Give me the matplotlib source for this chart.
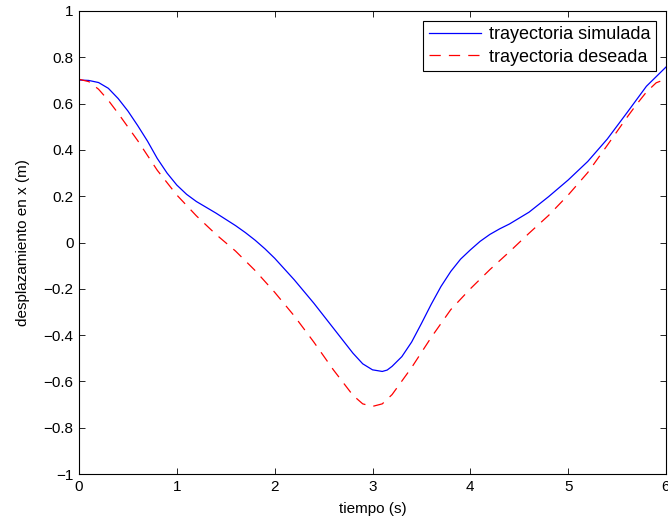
import matplotlib
matplotlib.use('Agg')
import matplotlib.pyplot as plt
from matplotlib.ticker import FuncFormatter

plt.rcParams['font.family'] = ['Liberation Sans', 'DejaVu Sans']

# trayectoria simulada
t_sim = [0.0, 0.1, 0.2, 0.3, 0.4, 0.5, 0.6, 0.7, 0.8, 0.9, 1.0, 1.1, 1.2, 1.3, 1.4,
         1.5, 1.6, 1.7, 1.8, 1.9, 2.0, 2.2, 2.4, 2.6, 2.8, 2.9, 3.0, 3.1, 3.15, 3.2,
         3.3, 3.4, 3.5, 3.6, 3.7, 3.8, 3.9, 4.0, 4.1, 4.2, 4.3, 4.4, 4.6, 4.8, 5.0,
         5.2, 5.4, 5.6, 5.8, 6.0]
x_sim = [0.702, 0.700, 0.691, 0.666, 0.622, 0.568, 0.505, 0.438, 0.363, 0.300,
         0.248, 0.208, 0.177, 0.152, 0.127, 0.100, 0.073, 0.043, 0.010, -0.027,
         -0.068, -0.161, -0.262, -0.370, -0.478, -0.524, -0.550, -0.557, -0.551,
         -0.535, -0.493, -0.430, -0.350, -0.267, -0.190, -0.125, -0.072, -0.032,
         0.005, 0.035, 0.059, 0.080, 0.131, 0.198, 0.270, 0.350, 0.447, 0.560,
         0.675, 0.758]

# trayectoria deseada
t_des = [0.0, 0.1, 0.2, 0.3, 0.4, 0.6, 0.8, 1.0, 1.2, 1.4, 1.6, 1.8, 2.0, 2.2, 2.4,
         2.6, 2.8, 2.9, 3.0, 3.1, 3.2, 3.4, 3.6, 3.8, 4.0, 4.2, 4.4, 4.6, 4.8, 5.0,
         5.2, 5.4, 5.6, 5.7, 5.8, 5.9, 6.0]
x_des = [0.705, 0.695, 0.662, 0.614, 0.558, 0.440, 0.312, 0.205, 0.115, 0.035,
         -0.037, -0.121, -0.215, -0.317, -0.430, -0.550, -0.660, -0.697, -0.708,
         -0.697, -0.657, -0.540, -0.410, -0.290, -0.200, -0.117, -0.040, 0.040,
         0.117, 0.205, 0.302, 0.420, 0.540, 0.597, 0.650, 0.690, 0.706]

x_ticks = [0, 1, 2, 3, 4, 5, 6]
y_ticks = [-1, -0.8, -0.6, -0.4, -0.2, 0, 0.2, 0.4, 0.6, 0.8, 1]

fig = plt.figure(figsize=(6.68, 5.29), dpi=100)
ax = fig.add_axes([79 / 668, 55 / 529, 587 / 668, 463 / 529])

ax.plot(t_sim, x_sim, color='#0000ff', lw=0.9, label='trayectoria simulada')
ax.plot(t_des, x_des, color='#ff0000', lw=0.9, dashes=(9, 6.5), label='trayectoria deseada')

ax.set_xlim(0, 6)
ax.set_ylim(-1, 1)
ax.set_xticks(x_ticks)
ax.set_yticks(y_ticks)
ax.yaxis.set_major_formatter(FuncFormatter(lambda v, p: ('%g' % v).replace('-', '\u2212')))
ax.tick_params(direction='in', length=4, width=0.6, top=True, right=True, labelsize=11, pad=4)
for s in ax.spines.values():
    s.set_linewidth(0.8)

ax.set_xlabel('tiempo (s)', fontsize=11, labelpad=6)
ax.set_ylabel('desplazamiento en x (m)', fontsize=11, labelpad=10)

leg = ax.legend(loc='upper right', fontsize=13, fancybox=False, framealpha=1,
                edgecolor='black', borderaxespad=0.55, handlelength=2.9,
                borderpad=0.3, labelspacing=0.3, handletextpad=0.45)
leg.get_frame().set_linewidth(0.8)

fig.savefig('out.png', dpi=100)
